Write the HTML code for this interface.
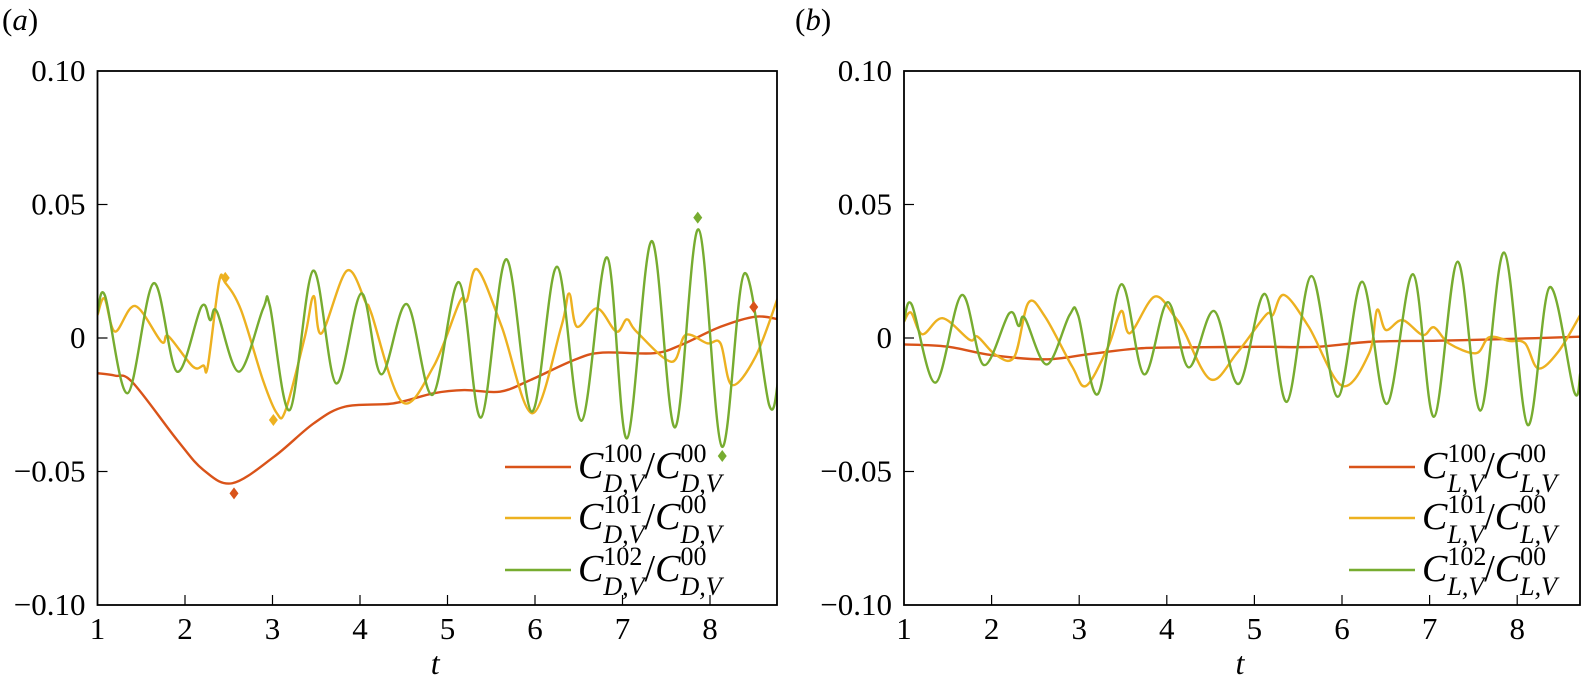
<!DOCTYPE html>
<html><head><meta charset="utf-8">
<style>
body{margin:0;background:#fff;}
svg{display:block;}
text{font-family:"Liberation Serif","Times New Roman",serif;}
</style></head>
<body>
<svg id="fig" width="1585" height="691" viewBox="0 0 1585 691" font-family="Liberation Serif, serif"></svg>
<script>
// ---- data (t, value) ----
const tTicks=[1,2,3,4,5,6,7,8];
const yTicks=[0.10,0.05,0,-0.05,-0.10];
const yTickLabels=["0.10","0.05","0","\u22120.05","\u22120.10"];
const aRed=[[1.0,-.0132],[1.2,-.0141],[1.4,-.0166],[1.91,-.0382],[2.21,-.0494],[2.54,-.0544],[3.02,-.0444],[3.47,-.032],[3.83,-.0257],[4.38,-.0245],[4.84,-.0207],[5.19,-.0195],[5.6,-.0201],[5.95,-.0157],[6.45,-.0082],[6.76,-.0055],[7.36,-.0057],[7.67,-.0026],[8.12,.0042],[8.52,.008],[8.78,.007]];
const aOrange=[[1.0,.0086],[1.08,.0148],[1.2,.0024],[1.43,.012],[1.73,-.0014],[1.81,.0007],[2.09,-.0107],[2.21,-.0103],[2.26,-.0107],[2.39,.0211],[2.46,.0207],[2.64,.0105],[2.89,-.0157],[3.05,-.0282],[3.15,-.027],[3.37,.0005],[3.47,.0157],[3.56,.0017],[3.85,.0252],[4.07,.013],[4.13,.0092],[4.48,-.0239],[4.84,-.0107],[5.14,.0136],[5.22,.014],[5.34,.0257],[5.62,.0042],[5.97,-.0282],[6.3,.0042],[6.39,.0167],[6.48,.0042],[6.71,.0111],[6.93,.0024],[7.05,.007],[7.16,.0024],[7.56,-.0089],[7.72,.0011],[7.97,-.002],[8.12,-.002],[8.25,-.0176],[8.52,-.007],[8.78,.0155]];
const aGreen=[[1.0,.0092],[1.086,.0158],[1.343,-.0207],[1.641,.0205],[1.909,-.0126],[2.187,.0117],[2.288,.0067],[2.364,.0099],[2.616,-.0126],[2.894,.0111],[2.97,.012],[3.197,-.027],[3.464,.0252],[3.727,-.017],[4.015,.0167],[4.242,-.0136],[4.535,.0127],[4.828,-.0213],[5.131,.0209],[5.383,-.0298],[5.671,.0295],[5.964,-.0276],[6.252,.0267],[6.53,-.031],[6.823,.0302],[7.05,-.0376],[7.333,.0363],[7.6,-.0335],[7.868,.0407],[8.136,-.0407],[8.393,.0242],[8.676,-.0251],[8.78,-.0157]];
const aMarkRed=[[2.56,-.0582],[8.5,.0116]];
const aMarkOrange=[[2.46,.0225],[3.01,-.0307]];
const aMarkGreen=[[7.86,.0451],[8.14,-.0442]];
const bRed=[[1.0,-.0024],[1.49,-.0032],[2.0,-.0064],[2.61,-.008],[3.12,-.006],[3.68,-.0039],[4.29,-.0035],[5.06,-.0033],[5.72,-.0033],[6.33,-.0014],[7.1,-.001],[7.86,-.0004],[8.72,.0005]];
const bOrange=[[1.0,.0061],[1.08,.0095],[1.21,.0014],[1.44,.0074],[1.75,-.0007],[1.84,.0005],[2.05,-.0064],[2.26,-.007],[2.42,.0132],[2.61,.008],[2.92,-.0107],[3.08,-.0179],[3.33,-.0033],[3.48,.0101],[3.58,.0018],[3.86,.0155],[4.09,.008],[4.19,.003],[4.5,-.0155],[4.8,-.0057],[5.13,.0086],[5.21,.0086],[5.34,.0161],[5.62,.0042],[6.0,-.0179],[6.31,-.0057],[6.4,.0105],[6.5,.003],[6.69,.0067],[6.92,.0011],[7.05,.004],[7.22,-.002],[7.53,-.0057],[7.68,.0003],[7.91,-.0011],[8.09,-.002],[8.24,-.0114],[8.47,-.0051],[8.72,.0086]];
const bGreen=[[1.0,.0063],[1.09,.0124],[1.36,-.0167],[1.66,.0161],[1.91,-.0101],[2.2,.0092],[2.31,.0045],[2.38,.0074],[2.63,-.0099],[2.89,.0086],[2.99,.0083],[3.21,-.0211],[3.48,.0201],[3.74,-.0136],[4.01,.0134],[4.25,-.011],[4.54,.0101],[4.82,-.0172],[5.12,.0165],[5.37,-.0239],[5.65,.0232],[5.95,-.022],[6.23,.0211],[6.51,-.0247],[6.81,.0239],[7.05,-.0295],[7.32,.0286],[7.58,-.0272],[7.85,.032],[8.12,-.0326],[8.37,.019],[8.65,-.0201],[8.72,-.0132]];

const NS="http://www.w3.org/2000/svg";
const svg=document.getElementById('fig');
const COL={red:"#d95319",orange:"#edb120",green:"#77ac30"};
const FF="Liberation Serif, serif";
function mk(tag,attrs,parent){const e=document.createElementNS(NS,tag);for(const k in attrs)e.setAttribute(k,attrs[k]);(parent||svg).appendChild(e);return e;}

function path(pts,sx,sy){
  const P=pts.map(p=>[sx(p[0]),sy(p[1])]);
  let d="M"+P[0][0].toFixed(2)+","+P[0][1].toFixed(2);
  for(let i=0;i<P.length-1;i++){
    const p0=P[Math.max(0,i-1)],p1=P[i],p2=P[i+1],p3=P[Math.min(P.length-1,i+2)];
    const c1=[p1[0]+(p2[0]-p0[0])/6,p1[1]+(p2[1]-p0[1])/6];
    const c2=[p2[0]-(p3[0]-p1[0])/6,p2[1]-(p3[1]-p1[1])/6];
    d+=" C"+c1[0].toFixed(2)+","+c1[1].toFixed(2)+" "+c2[0].toFixed(2)+","+c2[1].toFixed(2)+" "+p2[0].toFixed(2)+","+p2[1].toFixed(2);
  }
  return d;
}

function panel(cfg){
  const g=mk('g',{'font-family':FF});
  
  
  const sx=t=>cfg.x0+(t-1)*cfg.dx;
  const sy=v=>338-v*2670;
  const top=71,bot=605;
  const clipId="clip"+cfg.letter;
  const cp=mk('clipPath',{id:clipId},g);
  mk('rect',{x:cfg.x0,y:top,width:cfg.x1-cfg.x0,height:bot-top},cp);
  const series=[[cfg.red,'red'],[cfg.orange,'orange'],[cfg.green,'green']];
  const sg=mk('g',{'clip-path':'url(#'+clipId+')'},g);
  series.forEach(([pts,c])=>{
    const p=mk('path',{d:path(pts,sx,sy),fill:'none',stroke:COL[c],'stroke-width':2.4,'stroke-linejoin':'round'},sg);
    
    
  });
  (cfg.marks||[]).forEach(([pts,c])=>{
    pts.forEach(pt=>{
      const x=sx(pt[0]),y=sy(pt[1]);
      const m=mk('path',{d:`M${x},${y-6}L${x+4.5},${y}L${x},${y+6}L${x-4.5},${y}Z`,fill:COL[c]},g);
      
      
    });
  });
  const fr=mk('rect',{x:cfg.x0,y:top,width:cfg.x1-cfg.x0,height:bot-top,fill:'none',stroke:'#000','stroke-width':1.8},g);
  
  
  tTicks.forEach(t=>{
    const x=sx(t);
    if(t>1) mk('line',{x1:x,x2:x,y1:bot,y2:bot-10,stroke:'#000','stroke-width':1.2},g);
    const tx=mk('text',{x:x,y:bot+34,'font-size':31,'text-anchor':'middle','font-family':FF},g);
    tx.textContent=t;
    
    
  });
  yTicks.forEach((v,i)=>{
    const y=sy(v);
    if(i>0&&i<yTicks.length-1) mk('line',{x1:cfg.x0,x2:cfg.x0+10,y1:y,y2:y,stroke:'#000','stroke-width':1.2},g);
    const tx=mk('text',{x:cfg.x0-12,y:y+10,'font-size':31,'text-anchor':'end','font-family':FF},g);
    tx.textContent=yTickLabels[i];
    
    
  });
  const xl=mk('text',{x:(cfg.x0+cfg.x1)/2-2,y:674,'font-size':32,'font-style':'italic','text-anchor':'middle','font-family':FF},g);
  xl.textContent='t';
  
  
  const pl=mk('text',{x:cfg.labelX,y:30,'font-size':31,'font-family':FF},g);
  pl.innerHTML='(<tspan font-style="italic">'+cfg.letter+'</tspan>)';
  
  
  const ys=[467,518,570];
  const sups=['100','101','102'];
  ['red','orange','green'].forEach((c,i)=>{
    const y=ys[i];
    const ln=mk('line',{x1:cfg.legX,x2:cfg.legX+66,y1:y,y2:y,stroke:COL[c],'stroke-width':2.6},g);
    
    
    const tx=mk('text',{x:cfg.legX+73,y:y+11,'font-size':38,'font-style':'italic','font-family':FF},g);
    tx.innerHTML='C<tspan font-size="26" font-style="normal" dy="-16">'+sups[i]+'</tspan><tspan font-size="26" dx="-39" dy="30">'+cfg.sub+'</tspan><tspan font-style="normal" dy="-14">/</tspan>C<tspan font-size="26" font-style="normal" dy="-16">00</tspan><tspan font-size="26" dx="-26" dy="30">'+cfg.sub+'</tspan>';
    
    
  });
}

panel({name:'panel-a-drag',letter:'a',x0:97.5,dx:87.5,x1:777,labelX:2,legX:505,sub:'D,V',
  red:aRed,orange:aOrange,green:aGreen,
  marks:[[aMarkRed,'red'],[aMarkOrange,'orange'],[aMarkGreen,'green']]});
panel({name:'panel-b-lift',letter:'b',x0:904,dx:87.6,x1:1580,labelX:795,legX:1349,sub:'L,V',
  red:bRed,orange:bOrange,green:bGreen,marks:[]});
</script>
</body></html>
